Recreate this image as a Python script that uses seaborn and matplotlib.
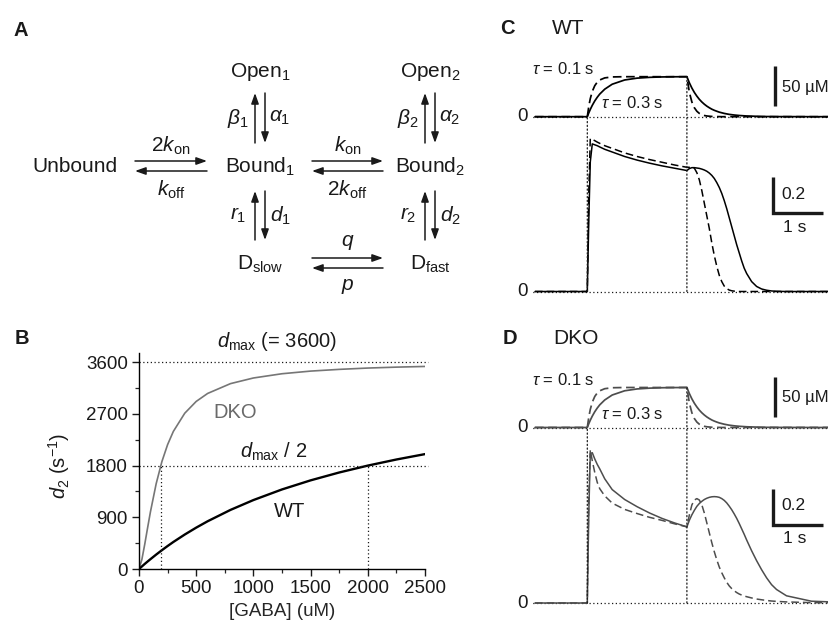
import pandas as pd
import matplotlib
matplotlib.use("Agg")
import matplotlib.pyplot as plt
from matplotlib.patches import ConnectionPatch
from matplotlib.ticker import MultipleLocator
import seaborn as sns

# --- panel B: d2 versus [GABA]
gaba_um = [0, 25, 50, 75, 100, 150, 200, 250, 300, 400, 500, 600, 800, 1000,
           1250, 1500, 1750, 2000, 2250, 2500]
d2_dko = [0, 164, 428, 715, 995, 1484, 1869, 2165, 2394, 2712, 2917, 3056, 3227,
          3325, 3399, 3445, 3475, 3498, 3514, 3526]
d2_wt = [0, 44, 88, 130, 171, 251, 327, 400, 470, 600, 720, 831, 1029, 1200,
         1385, 1543, 1680, 1800, 1906, 2000]
D_MAX = 3600
HALF_DKO = 190   # uM where DKO reaches d_max / 2
HALF_WT = 2000   # uM where WT reaches d_max / 2

# --- panels C and D: GABA pulse from 0 to 2 s
PULSE_ON, PULSE_OFF = 0.0, 2.0
time_s = [-1.05, -0.01, 0.0, 0.03, 0.06, 0.1, 0.15, 0.2, 0.25, 0.35, 0.5, 0.75, 1.0, 1.25, 1.5, 1.75, 2.0,
          2.05, 2.1, 2.15, 2.2, 2.25, 2.3, 2.35, 2.4, 2.45, 2.5, 2.55, 2.6, 2.65, 2.7, 2.75, 2.8, 2.85,
          2.9, 2.95, 3.0, 3.05, 3.1, 3.15, 3.2,
          3.3, 3.4, 3.5, 3.6, 3.7, 3.8, 4.0, 4.5, 5.5]
# GABA concentration (uM), tau = 0.1 s and tau = 0.3 s
conc_fast = [0, 0, 0, 13.0, 22.6, 31.6, 38.8, 43.2, 45.9, 48.5, 49.7, 50, 50, 50, 50, 50, 50,
             30.3, 18.4, 11.2, 6.8, 4.1, 2.5, 1.5, 0.9, 0.6, 0.3, 0.2, 0.1, 0.1, 0, 0, 0, 0,
             0, 0, 0, 0, 0, 0, 0,
             0, 0, 0, 0, 0, 0, 0, 0, 0]
conc_slow = [0, 0, 0, 4.8, 9.1, 14.2, 19.7, 24.3, 28.3, 34.4, 40.6, 45.9, 48.2, 49.2, 49.7, 49.9, 50,
             42.3, 35.8, 30.3, 25.7, 21.7, 18.4, 15.6, 13.2, 11.2, 9.4, 8.0, 6.8, 5.7, 4.9, 4.1, 3.5, 2.9,
             2.5, 2.1, 1.8, 1.5, 1.3, 1.1, 0.9,
             0.7, 0.5, 0.3, 0.2, 0.2, 0.1, 0.1, 0, 0]
# response traces (scale bar = 0.2)
po_wt_fast = [0, 0, 0, 0.55, 0.85, 0.845, 0.838, 0.83, 0.823, 0.81, 0.795, 0.77, 0.75, 0.733, 0.718, 0.703, 0.69,
              0.69, 0.693, 0.685, 0.66, 0.62, 0.56, 0.49, 0.42, 0.35, 0.27, 0.2, 0.14, 0.09, 0.055, 0.03, 0.016, 0.008,
              0.004, 0.002, 0.001, 0, 0, 0, 0,
              0, 0, 0, 0, 0, 0, 0, 0, 0]
po_wt_slow = [0, 0, 0, 0.4, 0.72, 0.82, 0.815, 0.81, 0.803, 0.79, 0.775, 0.75, 0.73, 0.713, 0.698, 0.685, 0.672,
              0.683, 0.688, 0.688, 0.686, 0.684, 0.68, 0.675, 0.668, 0.658, 0.645, 0.628, 0.605, 0.578, 0.545, 0.505,
              0.46, 0.41, 0.36, 0.31, 0.26, 0.215, 0.17, 0.13, 0.1,
              0.055, 0.028, 0.014, 0.007, 0.003, 0.001, 0, 0, 0]
po_dko_fast = [0, 0, 0, 0.6, 0.85, 0.79, 0.725, 0.67, 0.635, 0.595, 0.555, 0.52, 0.497, 0.476, 0.459, 0.44, 0.423,
               0.49, 0.545, 0.572, 0.58, 0.572, 0.545, 0.5, 0.445, 0.39, 0.335, 0.285, 0.24, 0.2, 0.168, 0.14,
               0.115, 0.095, 0.08, 0.068, 0.058, 0.05, 0.044, 0.039, 0.035,
               0.028, 0.022, 0.018, 0.014, 0.011, 0.009, 0.006, 0.002, 0]
po_dko_slow = [0, 0, 0, 0.5, 0.83, 0.835, 0.8, 0.77, 0.745, 0.69, 0.63, 0.575, 0.535, 0.5, 0.47, 0.445, 0.423,
               0.46, 0.49, 0.515, 0.537, 0.553, 0.565, 0.575, 0.582, 0.587, 0.59, 0.591, 0.59, 0.587, 0.58, 0.57,
               0.556, 0.538, 0.518, 0.495, 0.47, 0.442, 0.412, 0.382, 0.35,
               0.29, 0.235, 0.185, 0.14, 0.102, 0.075, 0.04, 0.01, 0]
tau_labels = ["0.1 s", "0.3 s"]
CONC_BAR = 50    # uM
PO_BAR = 0.2
TIME_BAR = 1.0   # s

sns.set_theme(style="ticks")
plt.rcParams["font.family"] = ["Liberation Sans", "DejaVu Sans"]
plt.rcParams["mathtext.fontset"] = "custom"
plt.rcParams["mathtext.rm"] = "Liberation Sans"
plt.rcParams["mathtext.it"] = "Liberation Sans:italic"
plt.rcParams["mathtext.bf"] = "Liberation Sans:bold"
plt.rcParams["axes.edgecolor"] = "black"
plt.rcParams["text.color"] = "#1a1a1a"

W, H = 829, 626
fig = plt.figure(figsize=(W / 100, H / 100), dpi=100)
DOT = (0, (1, 2))
FS_DIAG = 15
FS_TICK = 13.5


def px_axes(left, top, right, bottom):
    # axes placed by pixel box (y counted from the top)
    return fig.add_axes([left / W, 1 - bottom / H, (right - left) / W, (bottom - top) / H])


# overlay in pixels for the scheme and the panel letters
ov = fig.add_axes([0, 0, 1, 1])
ov.set_xlim(0, W)
ov.set_ylim(H, 0)
ov.axis("off")

for letter, x, y in [("A", 21, 30), ("B", 22, 338), ("C", 507, 29), ("D", 510, 339)]:
    ov.text(x, y, letter, fontsize=14.5, fontweight="bold", ha="center", va="center", color="k")
ov.text(568, 29, "WT", fontsize=15, ha="center", va="center")
ov.text(576, 339, "DKO", fontsize=15, ha="center", va="center")


# --- panel A: kinetic scheme
def arrow(x0, y0, x1, y1):
    ov.annotate("", xy=(x1, y1), xytext=(x0, y0),
                arrowprops=dict(arrowstyle="-|>,head_length=0.45,head_width=0.16", color="k",
                                lw=1.1, shrinkA=0, shrinkB=0, mutation_scale=14))


def pair_h(x0, x1, y, top_lab, bot_lab):
    arrow(x0, y - 5, x1, y - 5)
    arrow(x1, y + 5, x0, y + 5)
    ov.text((x0 + x1) / 2, y - 20, top_lab, fontsize=FS_DIAG, ha="center", va="center")
    ov.text((x0 + x1) / 2, y + 24, bot_lab, fontsize=FS_DIAG, ha="center", va="center")


def pair_v(x, y0, y1, left_lab, right_lab):
    arrow(x - 5, y1, x - 5, y0)
    arrow(x + 5, y0, x + 5, y1)
    ov.text(x - 22, (y0 + y1) / 2, left_lab, fontsize=FS_DIAG, ha="center", va="center")
    ov.text(x + 20, (y0 + y1) / 2, right_lab, fontsize=FS_DIAG, ha="center", va="center")


col1, col2 = 260, 430
row_open, row_bound, row_d = 72, 167, 264
ov.text(75, row_bound, "Unbound", fontsize=FS_DIAG, ha="center", va="center")
ov.text(col1, row_open, r"Open$_1$", fontsize=FS_DIAG, ha="center", va="center")
ov.text(col2, row_open, r"Open$_2$", fontsize=FS_DIAG, ha="center", va="center")
ov.text(col1, row_bound, r"Bound$_1$", fontsize=FS_DIAG, ha="center", va="center")
ov.text(col2, row_bound, r"Bound$_2$", fontsize=FS_DIAG, ha="center", va="center")
ov.text(col1, row_d, r"D$_{\mathrm{slow}}$", fontsize=FS_DIAG, ha="center", va="center")
ov.text(col2, row_d, r"D$_{\mathrm{fast}}$", fontsize=FS_DIAG, ha="center", va="center")

pair_h(135, 207, row_bound - 1, r"$2k_{\mathrm{on}}$", r"$k_{\mathrm{off}}$")
pair_h(312, 383, row_bound - 1, r"$k_{\mathrm{on}}$", r"$2k_{\mathrm{off}}$")
pair_h(312, 383, 263, r"$q$", r"$p$")
pair_v(col1, 93, 143, r"$\beta_1$", r"$\alpha_1$")
pair_v(col1, 191, 240, r"$r_1$", r"$d_1$")
pair_v(col2, 93, 143, r"$\beta_2$", r"$\alpha_2$")
pair_v(col2, 191, 240, r"$r_2$", r"$d_2$")

# --- panel B
df_b = pd.DataFrame({"gaba": gaba_um * 2, "d2": d2_wt + d2_dko,
                     "genotype": ["WT"] * len(gaba_um) + ["DKO"] * len(gaba_um)})
ax_b = px_axes(139, 353, 425, 569)
sns.lineplot(data=df_b[df_b.genotype == "DKO"], x="gaba", y="d2", color="#767676", lw=1.2,
             estimator=None, ax=ax_b)
sns.lineplot(data=df_b[df_b.genotype == "WT"], x="gaba", y="d2", color="black", lw=1.7,
             estimator=None, ax=ax_b)
ax_b.set_xlim(0, 2500)
ax_b.set_ylim(0, 3760)
ax_b.set_yticks([0, 900, 1800, 2700, 3600])
ax_b.yaxis.set_minor_locator(MultipleLocator(450))
ax_b.set_xticks([0, 500, 1000, 1500, 2000, 2500])
ax_b.xaxis.set_minor_locator(MultipleLocator(250))
ax_b.tick_params(which="major", direction="out", length=5, width=1, labelsize=FS_TICK, pad=3, colors="#1a1a1a")
ax_b.tick_params(which="minor", direction="out", length=3, width=0.9)
sns.despine(ax=ax_b)
ax_b.spines["left"].set_linewidth(1)
ax_b.spines["bottom"].set_linewidth(1)
ax_b.set_xlabel("[GABA] (uM)", fontsize=13.5, labelpad=4)
ax_b.set_ylabel("")
ax_b.text(-0.28, 0.477, r"$d_2$ (s$^{-1}$)", transform=ax_b.transAxes, rotation=90,
          fontsize=14.5, ha="center", va="center")
ax_b.plot([0, 2530], [D_MAX, D_MAX], ls=DOT, color="k", lw=0.9, clip_on=False)
ax_b.plot([0, 2530], [D_MAX / 2, D_MAX / 2], ls=DOT, color="k", lw=0.9, clip_on=False)
ax_b.plot([HALF_DKO, HALF_DKO], [0, D_MAX / 2], ls=DOT, color="k", lw=0.9)
ax_b.plot([HALF_WT, HALF_WT], [0, D_MAX / 2], ls=DOT, color="k", lw=0.9)
ax_b.text(1204, 3957, r"$d_{\mathrm{max}}$ (= 3600)", fontsize=14.5, ha="center", va="center", clip_on=False)
ax_b.text(1174, 2042, r"$d_{\mathrm{max}}$ / 2", fontsize=14.5, ha="center", va="center")
ax_b.text(840, 2720, "DKO", fontsize=14.5, color="#6a6a6a", ha="center", va="center")
ax_b.text(1320, 1000, "WT", fontsize=14.5, ha="center", va="center")

# --- panels C and D
n = len(time_s)
ON_PX, PX_PER_S = 587.3, 49.8
T_LO, T_HI = -1.1, 5.5
x_left = ON_PX + T_LO * PX_PER_S
x_right = ON_PX + T_HI * PX_PER_S
dash_map = {"0.1 s": (5, 2.6), "0.3 s": ""}


def trace_panel(base_conc, base_po, po_fast, po_slow, color):
    df = pd.DataFrame({"time": time_s * 2, "conc": conc_fast + conc_slow,
                       "po": po_fast + po_slow, "tau": [tau_labels[0]] * n + [tau_labels[1]] * n})
    # concentration: 0.8 px per uM, response: 180 px per unit
    ax_c = px_axes(x_left, base_conc - 70 * 0.8, x_right, base_conc + 5 * 0.8)
    ax_p = px_axes(x_left, base_po - 0.95 * 180, x_right, base_po + 0.03 * 180)
    for ax, ylim in [(ax_c, (-5, 70)), (ax_p, (-0.03, 0.95))]:
        ax.set_xlim(T_LO, T_HI)
        ax.set_ylim(*ylim)
        ax.axis("off")
    ax_c.plot([-1.17, T_HI], [0, 0], ls=DOT, color="k", lw=0.9)
    ax_p.plot([-1.17, T_HI], [0, 0], ls=DOT, color="k", lw=0.9)
    ax_c.text(-1.2, 0, "0", fontsize=FS_TICK, ha="right", va="center", clip_on=False)
    ax_p.text(-1.2, 0, "0", fontsize=FS_TICK, ha="right", va="center", clip_on=False)
    sns.lineplot(data=df, x="time", y="conc", style="tau", dashes=dash_map, color=color,
                 lw=1.25, estimator=None, sort=False, legend=False, ax=ax_c)
    sns.lineplot(data=df, x="time", y="po", style="tau", dashes=dash_map, color=color,
                 lw=1.1, estimator=None, sort=False, legend=False, ax=ax_p)
    ax_c.axis("off")
    ax_p.axis("off")
    # pulse edges
    for t, c_top in [(PULSE_ON, 0), (PULSE_OFF, CONC_BAR)]:
        con = ConnectionPatch(xyA=(t, 0), coordsA=ax_p.transData, xyB=(t, c_top),
                              coordsB=ax_c.transData, ls=DOT, color="k", lw=0.9)
        fig.add_artist(con)
    ax_c.text(-0.48, 59, r"$\tau$ = 0.1 s", fontsize=12, ha="center", va="center", clip_on=False)
    ax_c.text(0.9, 17, r"$\tau$ = 0.3 s", fontsize=12, ha="center", va="center")
    # scale bars
    ax_c.plot([3.77, 3.77], [13, 13 + CONC_BAR], color="k", lw=2.4, solid_capstyle="butt")
    ax_c.text(3.9, 37, "50 µM", fontsize=12, ha="left", va="center", clip_on=False)
    ax_p.plot([3.73, 3.73, 3.73 + TIME_BAR], [0.435 + PO_BAR, 0.435, 0.435], color="k", lw=2.4,
              solid_capstyle="butt", solid_joinstyle="miter")
    ax_p.text(3.9, 0.54, "0.2", fontsize=12.5, ha="left", va="center")
    ax_p.text(4.17, 0.357, "1 s", fontsize=12.5, ha="center", va="center")


trace_panel(116.7, 291.5, po_wt_fast, po_wt_slow, "black")
trace_panel(427.5, 603, po_dko_fast, po_dko_slow, "#4d4d4d")

fig.savefig("out.png", dpi=100)
